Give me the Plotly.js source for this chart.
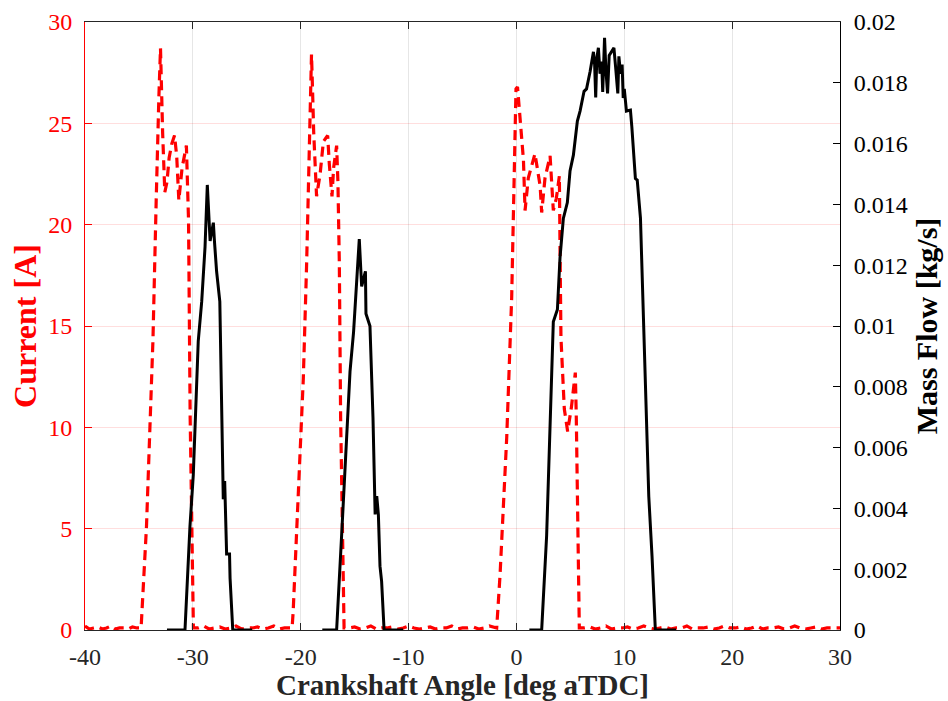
<!DOCTYPE html>
<html>
<head>
<meta charset="utf-8">
<script src="https://cdn.plot.ly/plotly-3.0.1.min.js"></script>
<style>html,body{margin:0;padding:0;background:#fff;}#chart{width:948px;height:701px;}</style>
</head>
<body>
<div id="chart"></div>
<script>
// Current [A] (red dashed, left axis)
const currentAngle = [
  -40, -39.6, -39.2, -38.8, -38.4, -38, -37.6, -37.2, -36.8, -36.4, -36, -35.6, -35.2, -34.8,
  -34.3, -33.7, -33.4, -33.25, -33.15, -33.0, -32.9, -32.8, -32.6, -32.4, -32.2, -31.95, -31.7, -31.5, -31.3, -31.0, -30.6, -30.5, -30.4, -30.25, -30.1, -29.95,
  -29.5, -29, -28.5, -28, -27.5, -27, -26.5, -26, -25.5, -25, -24.5, -24, -23.5, -23, -22.5, -22, -21.5, -21, -20.8,
  -20.7, -20.2, -19.76, -19.45, -19.3, -19.2, -19.1, -19.0, -18.9, -18.8, -18.53, -18.2, -17.9, -17.5, -17.35, -17.1, -16.95, -16.67, -16.55, -16.42, -16.3, -16.15, -15.98,
  -15.5, -15, -14.5, -14, -13.5, -13, -12.5, -12, -11.5, -11, -10.5, -10, -9.5, -9, -8.5, -8, -7.5, -7, -6.5, -6, -5.5, -5, -4.5, -4, -3.5, -3, -2.5, -2, -1.83,
  -1.52, -0.9, -0.44, -0.19, -0.04, 0.1, 0.3, 0.49, 0.65, 0.8, 1.1, 1.72, 2.2, 2.34, 2.65, 3.12, 3.42, 3.7, 3.98, 4.05, 4.13, 4.44, 4.75, 5.1, 5.46, 5.55, 5.65, 5.83,
  6.3, 6.8, 7.3, 7.8, 8.3, 8.8, 9.3, 9.8, 10.3, 10.8, 11.3, 11.8, 12.3, 12.8, 13.3, 13.8, 14.3, 14.8, 15.3, 15.8, 16.3, 16.8, 17.3, 17.8, 18.3, 18.8, 19.3, 19.8,
  20.3, 20.8, 21.3, 21.8, 22.3, 22.8, 23.3, 23.8, 24.3, 24.8, 25.3, 25.8, 26.3, 26.8, 27.3, 27.8, 28.3, 28.8, 29.3, 30
];
const currentA = [
  0.2, 0.05, 0.1, 0.15, 0.05, 0.1, 0.2, 0.05, 0.1, 0.1, 0.05, 0.15, 0.1, 0.1,
  5.1, 14.3, 21.2, 24.8, 26.3, 28.7, 26.5, 24.5, 21.6, 22.1, 23.3, 24.0, 24.4, 23.4, 21.2, 22.8, 23.9, 22.1, 20.2, 10.5, 4.7, 0.1,
  0.1, 0.2, 0.05, 0.1, 0.15, 0.05, 0.1, 0.2, 0.05, 0.1, 0.1, 0.15, 0.05, 0.1, 0.2, 0.05, 0.1, 0.1, 0.1,
  0.9, 6.7, 12.4, 18.1, 21.4, 24.4, 26.9, 28.4, 26.6, 24.6, 21.4, 22.5, 24.1, 24.4, 23.0, 21.4, 22.8, 23.9, 22.1, 18.1, 10.5, 4.7, 0.1,
  0.1, 0.15, 0.05, 0.1, 0.2, 0.05, 0.1, 0.1, 0.15, 0.05, 0.1, 0.2, 0.1, 0.05, 0.1, 0.15, 0.05, 0.1, 0.1, 0.2, 0.05, 0.1, 0.1, 0.15, 0.05, 0.1, 0.2, 0.1, 0.1,
  2.7, 9.5, 16.4, 22.3, 26.7, 26.8, 25.5, 24.2, 23.2, 20.7, 22.3, 23.5, 21.9, 20.6, 22.3, 23.4, 20.7, 21.3, 22.4, 18.4, 14.4, 10.9, 9.8, 11.0, 12.7, 10.5, 6.6, 0.1,
  0.1, 0.15, 0.05, 0.1, 0.2, 0.05, 0.1, 0.1, 0.15, 0.05, 0.1, 0.2, 0.1, 0.05, 0.1, 0.15, 0.05, 0.1, 0.1, 0.2, 0.05, 0.1, 0.1, 0.15, 0.05, 0.1, 0.2, 0.1,
  0.1, 0.15, 0.05, 0.1, 0.2, 0.05, 0.1, 0.1, 0.15, 0.05, 0.1, 0.2, 0.1, 0.05, 0.1, 0.15, 0.05, 0.1, 0.1, 0.1
];

// Mass Flow [kg/s] (black solid, right axis); null separates injection events
const flowAngle = [
  -32.4, -30.73, -30.27, -29.96, -29.5, -29.18, -28.87, -28.66, -28.4, -28.1, -28.0, -27.8, -27.5, -27.33, -27.18, -27.05, -26.87, -26.6, -26.55, -26.3, -24.5,
  -24.4,
  -18.0, -16.67, -16.2, -15.9, -15.43, -15.1, -14.57, -14.35, -14.0, -13.95, -13.58, -13.3, -13.1, -12.95, -12.8, -12.65, -12.5, -12.27, -10.5,
  -10.4,
  1.2, 2.34, 2.8, 3.12, 3.42, 3.8, 4.04, 4.35, 4.72, 4.97, 5.28, 5.65, 5.9, 6.27, 6.5, 6.83, 7.14, 7.25, 7.35, 7.45, 7.6, 7.75, 7.9, 8.0, 8.17, 8.3, 8.45, 8.6,
  9.04, 9.2, 9.4, 9.5, 9.65, 9.8, 9.9, 10.0, 10.2, 10.57, 10.7, 11.03, 11.2, 11.5, 11.8, 12.27, 12.57, 12.88, 14.8
];
const flowKgS = [
  0, 0, 0.0034, 0.0051, 0.0095, 0.0108, 0.0126, 0.01464, 0.0128, 0.0134, 0.0128, 0.0118, 0.0108, 0.0070, 0.0043, 0.0049, 0.0025, 0.0025, 0.0017, 0, 0,
  null,
  0, 0, 0.00316, 0.0051, 0.0085, 0.0098, 0.01286, 0.0113, 0.0118, 0.0104, 0.0100, 0.0070, 0.0038, 0.0044, 0.0038, 0.0021, 0.0016, 0, 0,
  null,
  0, 0, 0.0031, 0.0070, 0.01014, 0.01054, 0.01224, 0.01354, 0.01406, 0.0151, 0.01562, 0.01674, 0.01707, 0.01772, 0.0178, 0.01837, 0.01902, 0.0186, 0.01752, 0.0188, 0.01915, 0.0183, 0.0187, 0.0177, 0.01948, 0.0184, 0.01765, 0.0189,
  0.01915, 0.0185, 0.01765, 0.01887, 0.0183, 0.0186, 0.0175, 0.0178, 0.01707, 0.0171, 0.01655, 0.01485, 0.0148, 0.01355, 0.00963, 0.0044, 0.00244, 0, 0
];

const xTickVals = [-40, -30, -20, -10, 0, 10, 20, 30];
const xTickText = ['-40', '-30', '-20', '-10', '0', '10', '20', '30'];
const leftTicks = [0, 5, 10, 15, 20, 25, 30];
const rightTickVals = [0, 0.002, 0.004, 0.006, 0.008, 0.01, 0.012, 0.014, 0.016, 0.018, 0.02];
const rightTickText = ['0', '0.002', '0.004', '0.006', '0.008', '0.01', '0.012', '0.014', '0.016', '0.018', '0.02'];

const FONT = 'Liberation Serif, Times New Roman, serif';

const traces = [
  {
    x: currentAngle, y: currentA, type: 'scatter', mode: 'lines', yaxis: 'y',
    line: {color: '#ff0000', width: 3.2, dash: '10px,6px'}, showlegend: false
  },
  {
    x: flowAngle, y: flowKgS, type: 'scatter', mode: 'lines', yaxis: 'y2',
    line: {color: '#000000', width: 3}, connectgaps: false, showlegend: false
  }
];

const layout = {
  width: 948, height: 701,
  margin: {l: 85, r: 108, t: 22, b: 71},
  paper_bgcolor: '#ffffff', plot_bgcolor: '#ffffff',
  font: {family: FONT, size: 24, color: '#262626'},
  showlegend: false,
  xaxis: {
    range: [-40, 30], tickvals: xTickVals, ticktext: xTickText, ticks: 'inside', ticklen: 7, tickcolor: '#262626',
    showline: true, linecolor: '#262626', linewidth: 1, mirror: 'ticks',
    showgrid: true, gridcolor: '#e6e6e6', gridwidth: 1, zeroline: false,
    ticklabelstandoff: 5,
    tickfont: {family: FONT, size: 24, color: '#262626'},
    title: {text: '<b>Crankshaft Angle [deg aTDC]</b>', font: {family: FONT, size: 29, color: '#262626'}, standoff: 3}
  },
  yaxis: {
    range: [0, 30], tickvals: leftTicks, ticks: 'inside', ticklen: 7, tickcolor: '#ff0000',
    showline: true, linecolor: '#ff0000', linewidth: 1,
    showgrid: true, gridcolor: 'rgba(255,0,0,0.13)', gridwidth: 1, zeroline: false,
    ticklabelstandoff: 7,
    tickfont: {family: FONT, size: 24, color: '#ff0000'},
    title: {text: '<b>Current [A]</b>', font: {family: FONT, size: 32, color: '#ff0000'}, standoff: 2}
  },
  yaxis2: {
    range: [0, 0.02], tickvals: rightTickVals, ticktext: rightTickText, overlaying: 'y', side: 'right',
    ticks: 'inside', ticklen: 7, tickcolor: '#000000',
    showline: true, linecolor: '#000000', linewidth: 1, showgrid: false, zeroline: false,
    ticklabelstandoff: 8,
    tickfont: {family: FONT, size: 24, color: '#000000'},
    title: {text: '<b>Mass Flow [kg/s]</b>', font: {family: FONT, size: 30, color: '#000000'}, standoff: 9}
  }
};

Plotly.newPlot('chart', traces, layout, {displayModeBar: false, staticPlot: true});
</script>
</body>
</html>
